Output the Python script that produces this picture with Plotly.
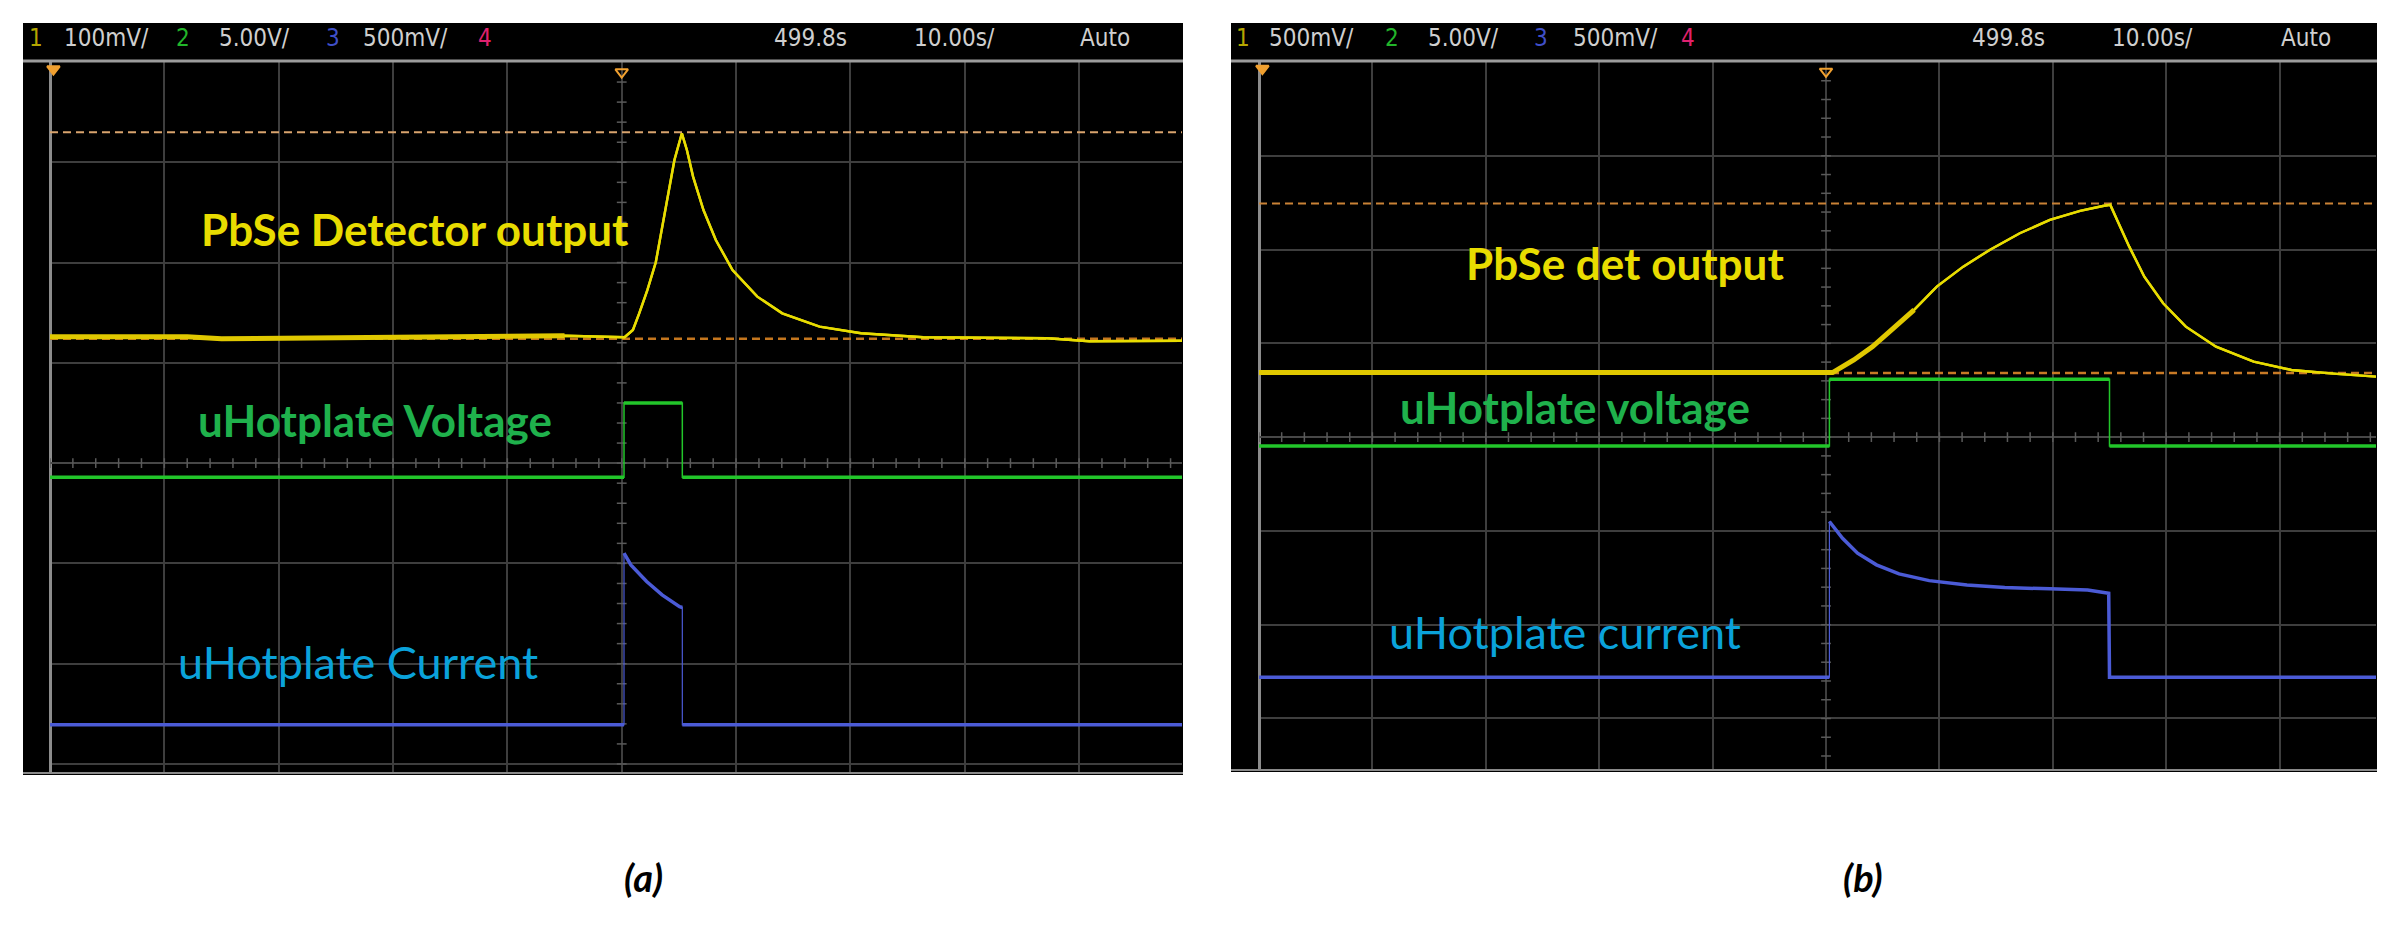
import numpy as np
import plotly.graph_objects as go

W, H = 2403, 936
OFF = 8  # default page margin around the plot div
FW, FH = W - 2 * OFF, H - 2 * OFF

# ---- panel (a): time in divisions, amplitude in divisions ----
a_yel_t = [0, 1.2, 1.5, 2.3, 3.5, 4.5, 5.025, 5.098, 5.153, 5.225, 5.298, 5.370, 5.461, 5.526,
           5.570, 5.624, 5.715, 5.823, 5.969, 6.186, 6.404, 6.730, 7.093, 7.636, 8.72, 9.09, 9.90]
a_yel_v = [1.26, 1.26, 1.24, 1.25, 1.26, 1.27, 1.255, 1.328, 1.494, 1.727, 2.003, 2.458, 3.023, 3.289,
           3.123, 2.857, 2.524, 2.225, 1.926, 1.660, 1.494, 1.361, 1.295, 1.255, 1.245, 1.215, 1.22]
a_grn_t = [0, 5.02, 5.02, 5.53, 5.53, 9.90]
a_grn_v = [-0.14, -0.14, 0.60, 0.60, -0.14, -0.14]
a_blu_t = [0, 5.02, 5.02, 5.08, 5.218, 5.353, 5.506, 5.53, 5.53, 9.90]
a_blu_v = [-2.61, -2.61, -0.898, -1.015, -1.18, -1.314, -1.431, -1.44, -2.61, -2.61]
a_cursor_hi = 3.30
a_cursor_lo = 1.24

# ---- panel (b) ----
b_yel_t = [0, 5.058, 5.245, 5.411, 5.578, 5.777, 5.977, 6.210, 6.443, 6.709, 6.974, 7.241, 7.441, 7.507,
           7.574, 7.674, 7.807, 7.973, 8.173, 8.439, 8.771, 9.104, 9.504, 9.85]
b_yel_v = [0.688, 0.688, 0.823, 0.965, 1.143, 1.356, 1.605, 1.818, 1.996, 2.174, 2.316, 2.412, 2.465, 2.476,
           2.297, 2.031, 1.711, 1.427, 1.178, 0.965, 0.805, 0.716, 0.674, 0.645]
b_grn_t = [0, 5.03, 5.03, 7.50, 7.50, 9.85]
b_grn_v = [-0.094, -0.094, 0.617, 0.617, -0.094, -0.094]
b_blu_t = [0, 5.03, 5.03, 5.146, 5.278, 5.445, 5.644, 5.910, 6.243, 6.576, 6.974, 7.307, 7.493, 7.50, 9.85]
b_blu_v = [-2.56, -2.56, -0.90, -1.078, -1.238, -1.362, -1.458, -1.530, -1.576, -1.604, -1.618, -1.629, -1.664,
           -2.56, -2.56]
b_cursor_hi = 2.49
b_cursor_lo = 0.685

a_header = ["1", "100mV/", "2", "5.00V/", "3", "500mV/", "4", "499.8s", "10.00s/", "Auto"]
b_header = ["1", "500mV/", "2", "5.00V/", "3", "500mV/", "4", "499.8s", "10.00s/", "Auto"]

YEL = "#e8dc00"
GRN = "#22c62a"
BLU = "#4b5bd6"
GRAY_TXT = "#cfcfcf"
HDR_COLORS = ["#b5a600", GRAY_TXT, "#22b52a", GRAY_TXT, "#3f4fc8", GRAY_TXT, "#e0206e",
              GRAY_TXT, GRAY_TXT, GRAY_TXT]
HDR_FONT = "DejaVu Sans Condensed, Liberation Sans Narrow, Liberation Sans, sans-serif"


def px_x(p):
    return (p - OFF) / FW


def px_y(p):
    return 1 - (p - OFF) / FH


def level_parts(t, v):
    # split at vertical edges so the flat parts can be drawn bolder
    xs, ys = [], []
    for i in range(len(t)):
        if i > 0 and t[i] == t[i - 1]:
            xs.append(None)
            ys.append(None)
        xs.append(t[i])
        ys.append(v[i])
    return xs, ys


panels = [
    dict(xa="x", ya="y", xr=9.90, yr=-3.09, box=(23, 1183, 23, 775),
         yel=(a_yel_t, a_yel_v), grn=(a_grn_t, a_grn_v), blu=(a_blu_t, a_blu_v),
         cur=(a_cursor_hi, a_cursor_lo), hi_col="#d9a46e", lo_col="#c4761e",
         header=a_header, hx=[36, 106, 183, 254, 333, 405, 485, 810, 955, 1105],
         labels=[("PbSe Detector output", 3.19, 2.33, YEL, True),
                 ("uHotplate Voltage", 2.84, 0.43, "#1fb14c", True),
                 ("uHotplate Current", 2.69, -1.98, "#0aa2da", False)],
         marks=[(-0.14, GRN), (-1.91, BLU), (-2.61, BLU)]),
    dict(xa="x2", ya="y2", xr=9.85, yr=-3.56, box=(1231, 2377, 23, 772),
         yel=(b_yel_t, b_yel_v), grn=(b_grn_t, b_grn_v), blu=(b_blu_t, b_blu_v),
         cur=(b_cursor_hi, b_cursor_lo), hi_col="#c98236", lo_col="#c87a26",
         header=b_header, hx=[1243, 1311, 1392, 1463, 1541, 1615, 1688, 2008, 2152, 2306],
         labels=[("PbSe det output", 3.23, 1.86, YEL, True),
                 ("uHotplate voltage", 2.79, 0.32, "#1fb14c", True),
                 ("uHotplate current", 2.70, -2.08, "#0aa2da", False)],
         marks=[(-0.094, GRN), (-1.44, YEL), (-1.83, BLU), (-2.56, BLU)]),
]

fig = go.Figure()
shapes = []
annotations = []

for p in panels:
    xa, ya = p["xa"], p["ya"]
    x0, x1, y0, y1 = p["box"]
    shapes.append(dict(type="rect", xref="paper", yref="paper", x0=px_x(x0), x1=px_x(x1),
                       y0=px_y(y1), y1=px_y(y0), fillcolor="black", line=dict(width=0), layer="below"))
    shapes.append(dict(type="line", xref="paper", yref="paper", x0=px_x(x0), x1=px_x(x1),
                       y0=px_y(61), y1=px_y(61), line=dict(color="#9c9c9c", width=3)))
    shapes.append(dict(type="line", xref="paper", yref="paper", x0=px_x(x0), x1=px_x(x1),
                       y0=px_y(y1 - 2), y1=px_y(y1 - 2), line=dict(color="#8a8a8a", width=2)))

    # graticule ticks on the centre lines
    tx = np.arange(0, p["xr"], 0.2)
    ty = np.arange(np.ceil(p["yr"] / 0.2) * 0.2, 4.0, 0.2)
    fig.add_trace(go.Scatter(x=tx, y=np.zeros_like(tx), mode="markers", xaxis=xa, yaxis=ya,
                             marker=dict(symbol="line-ns", size=7, line=dict(color="#5a5a5a", width=1.5)),
                             hoverinfo="skip", showlegend=False))
    fig.add_trace(go.Scatter(x=np.full_like(ty, 5.0), y=ty, mode="markers", xaxis=xa, yaxis=ya,
                             marker=dict(symbol="line-ew", size=7, line=dict(color="#5a5a5a", width=1.5)),
                             hoverinfo="skip", showlegend=False))

    # cursor lines
    hi, lo = p["cur"]
    fig.add_trace(go.Scatter(x=[0, p["xr"]], y=[hi, hi], mode="lines", xaxis=xa, yaxis=ya,
                             line=dict(color=p["hi_col"], width=2, dash="8px,5px"),
                             hoverinfo="skip", showlegend=False))
    fig.add_trace(go.Scatter(x=[0, p["xr"]], y=[lo, lo], mode="lines", xaxis=xa, yaxis=ya,
                             line=dict(color=p["lo_col"], width=2.5, dash="8px,5px"),
                             hoverinfo="skip", showlegend=False))

    # channel traces: thin full trace plus bolder flat parts
    for (t, v), col, wthin, wthick in [(p["grn"], GRN, 1.5, 3.5), (p["blu"], BLU, 1.2, 3.5),
                                       (p["yel"], YEL, 2.4, 2.4)]:
        fig.add_trace(go.Scatter(x=t, y=v, mode="lines", xaxis=xa, yaxis=ya,
                                 line=dict(color=col, width=wthin), hoverinfo="skip", showlegend=False))
        xs, ys = level_parts(t, v)
        fig.add_trace(go.Scatter(x=xs, y=ys, mode="lines", xaxis=xa, yaxis=ya, connectgaps=False,
                                 line=dict(color=col, width=wthick), hoverinfo="skip", showlegend=False))
    # yellow baseline thicker (noise band)
    yt, yv = p["yel"]
    fig.add_trace(go.Scatter(x=yt[:6], y=yv[:6], mode="lines", xaxis=xa, yaxis=ya,
                             line=dict(color="#e0c800", width=5), hoverinfo="skip", showlegend=False))

    # channel ground markers at the left edge, trigger markers on top
    for lvl, col in p["marks"]:
        fig.add_trace(go.Scatter(x=[-0.07], y=[lvl], mode="markers", xaxis=xa, yaxis=ya, cliponaxis=False,
                                 marker=dict(symbol="triangle-right", size=12, color=col),
                                 hoverinfo="skip", showlegend=False))
    fig.add_trace(go.Scatter(x=[0.03, 5.0], y=[3.93, 3.9], mode="markers", xaxis=xa, yaxis=ya, cliponaxis=False,
                             marker=dict(symbol=["triangle-down", "triangle-down-open"], size=11,
                                         color="#f0a030", line=dict(color="#f0a030", width=2)),
                             hoverinfo="skip", showlegend=False))

    for txt, lx, ly, col, bold in p["labels"]:
        annotations.append(dict(x=lx, y=ly, xref=xa, yref=ya, text=f"<b>{txt}</b>" if bold else txt,
                                xanchor="center", yanchor="middle", showarrow=False,
                                font=dict(family="Lato", size=44 if bold else 45, color=col)))

    for txt, hx, col in zip(p["header"], p["hx"], HDR_COLORS):
        annotations.append(dict(x=px_x(hx), y=px_y(38), xref="paper", yref="paper", text=txt,
                                xanchor="center", yanchor="middle", showarrow=False,
                                font=dict(family=HDR_FONT, size=24, color=col)))

for txt, cx in [("(a)", 643), ("(b)", 1863)]:
    annotations.append(dict(x=px_x(cx), y=px_y(877), xref="paper", yref="paper", text=f"<b><i>{txt}</i></b>",
                            xanchor="center", yanchor="middle", showarrow=False,
                            font=dict(family="Lato", size=38, color="black")))


def xaxis(dom, xr, anchor):
    return dict(domain=dom, range=[0, xr], dtick=1, tick0=0, showgrid=True, gridcolor="#3e3e3e",
                gridwidth=2, zeroline=True, zerolinecolor="#8c8c8c", zerolinewidth=3,
                showticklabels=False, ticks="", showline=False, anchor=anchor, fixedrange=True)


def yaxis(dom, yr, anchor):
    return dict(domain=dom, range=[yr, 4.0], dtick=1, tick0=0, showgrid=True, gridcolor="#3e3e3e",
                gridwidth=2, zeroline=True, zerolinecolor="#474747", zerolinewidth=2,
                showticklabels=False, ticks="", showline=False, anchor=anchor, fixedrange=True)


fig.update_layout(
    width=FW, height=FH,
    margin=dict(l=0, r=0, t=0, b=0),
    paper_bgcolor="white", plot_bgcolor="black",
    xaxis=xaxis([px_x(50), px_x(1182)], 9.90, "y"),
    yaxis=yaxis([px_y(773), px_y(62)], -3.09, "x"),
    xaxis2=xaxis([px_x(1259), px_x(2376)], 9.85, "y2"),
    yaxis2=yaxis([px_y(771), px_y(62)], -3.56, "x2"),
    shapes=shapes,
    annotations=annotations,
    showlegend=False,
)

fig.write_html("out.html")
